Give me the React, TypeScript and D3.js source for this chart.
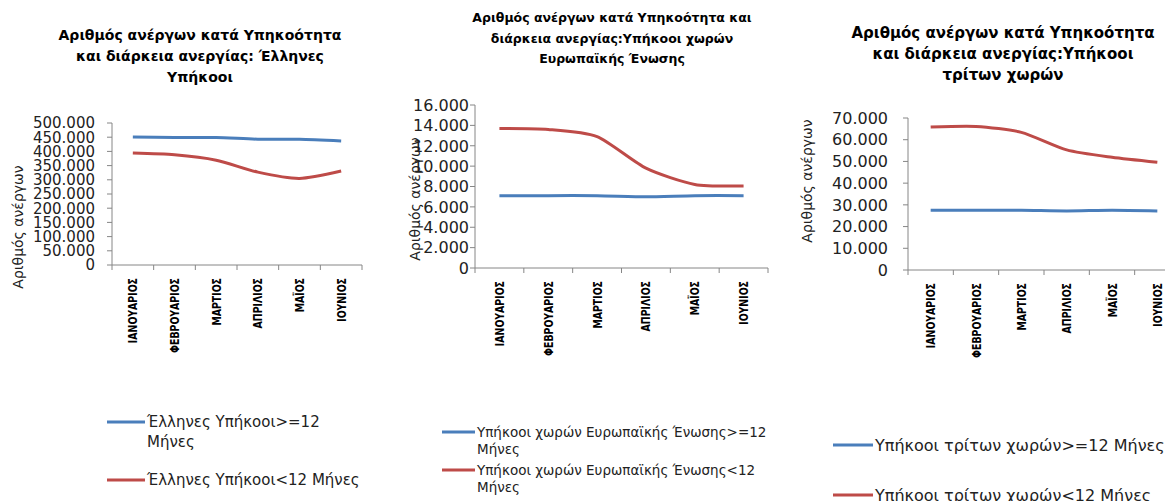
import React from "react";
import * as d3 from "d3";

// ---- data ----
const months = ["ΙΑΝΟΥΑΡΙΟΣ", "ΦΕΒΡΟΥΑΡΙΟΣ", "ΜΑΡΤΙΟΣ", "ΑΠΡΙΛΙΟΣ", "ΜΑΪΟΣ", "ΙΟΥΝΙΟΣ"];

const greekLong = [451000, 449000, 449000, 443000, 443000, 437000];
const greekShort = [394000, 388000, 369000, 327000, 305000, 331000];
const euLong = [7100, 7100, 7100, 7000, 7100, 7100];
const euShort = [13700, 13600, 12900, 9800, 8200, 8050];
const thirdLong = [27500, 27500, 27500, 27200, 27500, 27200];
const thirdShort = [65800, 66100, 63400, 55300, 51900, 49600];

const greekTicks = [0, 50000, 100000, 150000, 200000, 250000, 300000, 350000, 400000, 450000, 500000];
const euTicks = [0, 2000, 4000, 6000, 8000, 10000, 12000, 14000, 16000];
const thirdTicks = [0, 10000, 20000, 30000, 40000, 50000, 60000, 70000];

const greekTitle = ["Αριθμός ανέργων κατά Υπηκοότητα", "και διάρκεια ανεργίας: Έλληνες", "Υπήκοοι"];
const euTitle = ["Αριθμός ανέργων κατά Υπηκοότητα και", "διάρκεια ανεργίας:Υπήκοοι χωρών", "Ευρωπαϊκής Ένωσης"];
const thirdTitle = ["Αριθμός ανέργων κατά Υπηκοότητα", "και διάρκεια ανεργίας:Υπήκοοι", "τρίτων χωρών"];

const greekLegend = [["Έλληνες Υπήκοοι>=12", "Μήνες"], ["Έλληνες Υπήκοοι<12 Μήνες"]];
const euLegend = [["Υπήκοοι χωρών Ευρωπαϊκής Ένωσης>=12", "Μήνες"], ["Υπήκοοι χωρών Ευρωπαϊκής Ένωσης<12", "Μήνες"]];
const thirdLegend = [["Υπήκοοι τρίτων χωρών>=12 Μήνες"], ["Υπήκοοι τρίτων χωρών<12 Μήνες"]];

const yTitle = "Αριθμός ανέργων";

const BLUE = "#4a7ebb";
const RED = "#be4b48";
const AXIS = "#868686";

const locale = d3.formatLocale({ decimal: ",", thousands: ".", grouping: [3], currency: ["", "€"] });
const fmt = locale.format(",d");

type Panel = {
  long: number[];
  short: number[];
  ticks: number[];
  title: string[];
  legend: string[][];
  x0: number; x1: number; yTop: number; yBot: number;
  tickFont: number; tickGap: number;
  titleX: number; titleY: number; titleFont: number; titleLH: number;
  yTitleX: number; yTitleY: number; yTitleFont: number;
  labelFont: number;
  legX0: number; legX1: number; legY: number[]; legFont: number; legLH: number;
};

const panels: Panel[] = [
  {
    long: greekLong, short: greekShort, ticks: greekTicks, title: greekTitle, legend: greekLegend,
    x0: 112, x1: 362, yTop: 123, yBot: 265, tickFont: 15, tickGap: 17,
    titleX: 200, titleY: 40, titleFont: 14, titleLH: 21,
    yTitleX: 18, yTitleY: 227, yTitleFont: 14, labelFont: 13,
    legX0: 107, legX1: 145, legY: [422, 480], legFont: 15, legLH: 20,
  },
  {
    long: euLong, short: euShort, ticks: euTicks, title: euTitle, legend: euLegend,
    x0: 475, x1: 768, yTop: 105, yBot: 268, tickFont: 16, tickGap: 6,
    titleX: 612, titleY: 22, titleFont: 12.5, titleLH: 20.5,
    yTitleX: 415, yTitleY: 199, yTitleFont: 14, labelFont: 13,
    legX0: 442, legX1: 475, legY: [432, 470], legFont: 13.5, legLH: 17,
  },
  {
    long: thirdLong, short: thirdShort, ticks: thirdTicks, title: thirdTitle, legend: thirdLegend,
    x0: 908, x1: 1180, yTop: 118, yBot: 270, tickFont: 16, tickGap: 20,
    titleX: 1003, titleY: 38, titleFont: 15, titleLH: 21,
    yTitleX: 807, yTitleY: 181, yTitleFont: 14, labelFont: 13,
    legX0: 833, legX1: 873, legY: [445, 495], legFont: 16, legLH: 20,
  },
];

function Chart({ p }: { p: Panel }) {
  const x = d3.scaleBand<string>().domain(months).range([p.x0, p.x1]);
  const maxV = p.ticks[p.ticks.length - 1];
  const y = d3.scaleLinear().domain([0, maxV]).range([p.yBot, p.yTop]);
  const line = d3
    .line<number>()
    .x((_, i) => (x(months[i]) as number) + x.bandwidth() / 2)
    .y((d) => y(d))
    .curve(d3.curveCardinal.tension(0.3));
  const boundaries = months.map((m) => x(m) as number).concat([p.x1]);
  const sans = "'DejaVu Sans', sans-serif";
  return (
    <g>
      {p.title.map((t, i) => (
        <text key={i} x={p.titleX} y={p.titleY + i * p.titleLH} textAnchor="middle"
          fontFamily={sans} fontWeight="bold" fontSize={p.titleFont} fill="#000">{t}</text>
      ))}
      {/* y axis */}
      <line x1={p.x0} x2={p.x0} y1={p.yTop} y2={p.yBot} stroke={AXIS} strokeWidth={1} />
      {p.ticks.map((t) => (
        <g key={t}>
          <line x1={p.x0 - 5} x2={p.x0} y1={y(t)} y2={y(t)} stroke={AXIS} />
          <text x={p.x0 - p.tickGap} y={y(t)} dy="0.36em" textAnchor="end"
            fontFamily={sans} fontSize={p.tickFont} fill="#222">{fmt(t)}</text>
        </g>
      ))}
      {/* x axis */}
      <line x1={p.x0} x2={p.x1} y1={p.yBot} y2={p.yBot} stroke={AXIS} />
      {boundaries.map((b, i) => (
        <line key={i} x1={b} x2={b} y1={p.yBot} y2={p.yBot + 5} stroke={AXIS} />
      ))}
      {months.map((m) => {
        const cx = (x(m) as number) + x.bandwidth() / 2;
        const cy = p.yBot + 13;
        return (
          <text key={m} transform={`translate(${cx},${cy}) rotate(-90) scale(0.72,1)`} textAnchor="end"
            dy="0.35em" fontFamily={sans}
            fontWeight="bold" fontSize={p.labelFont} fill="#000">{m}</text>
        );
      })}
      <text transform={`translate(${p.yTitleX},${p.yTitleY}) rotate(-90)`} textAnchor="middle"
        dy="0.35em" fontFamily={sans} fontSize={p.yTitleFont} fill="#222">{yTitle}</text>
      <path d={line(p.long) || ""} fill="none" stroke={BLUE} strokeWidth={3} />
      <path d={line(p.short) || ""} fill="none" stroke={RED} strokeWidth={3} />
      {/* legend */}
      {p.legend.map((lines, i) => (
        <g key={i}>
          <line x1={p.legX0} x2={p.legX1} y1={p.legY[i]} y2={p.legY[i]}
            stroke={i === 0 ? BLUE : RED} strokeWidth={3} />
          {lines.map((t, j) => (
            <text key={j} x={p.legX1 + 2} y={p.legY[i] + j * p.legLH} dy="0.35em"
              fontFamily={sans} fontSize={p.legFont} fill="#222">{t}</text>
          ))}
        </g>
      ))}
    </g>
  );
}

export default function App() {
  return (
    <svg width={1165} height={501} style={{ position: "absolute", left: 0, top: 0, background: "#fff" }}>
      <rect width={1165} height={501} fill="#fff" />
      {panels.map((p, i) => (
        <Chart key={i} p={p} />
      ))}
    </svg>
  );
}
